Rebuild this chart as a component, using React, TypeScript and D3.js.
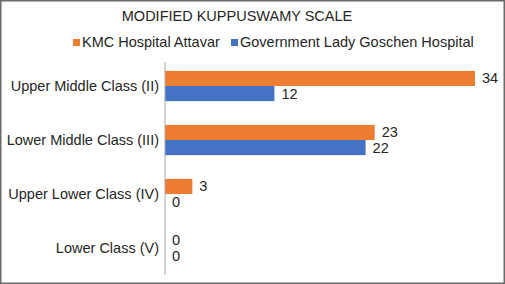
import React from "react";
import * as d3 from "d3";

const categories = ["Upper Middle Class (II)", "Lower Middle Class (III)", "Upper Lower Class (IV)", "Lower Class (V)"];
const seriesNames = ["KMC Hospital Attavar", "Government Lady Goschen Hospital"];
const kmcValues = [34, 23, 3, 0];
const goschenValues = [12, 22, 0, 0];
const colors = ["#ED7D31", "#4472C4"];

const W = 505, H = 284;
const left = 165, top = 59, bottom = 275;

export default function App() {
  const y = d3.scaleBand<string>().domain(categories).range([top, bottom]).paddingInner(0.44).paddingOuter(0.22);
  const sub = d3.scaleBand<number>().domain([0, 1]).range([0, y.bandwidth()]);
  const x = d3.scaleLinear().domain([0, 34]).range([left, 475]);
  const series = [kmcValues, goschenValues];
  const font = "Liberation Sans, Arial, sans-serif";
  const fs = 14.5;
  return (
    <svg width={W} height={H} style={{ position: "fixed", left: 0, top: 0 }} fontFamily={font}>
      <rect x={0} y={0} width={W} height={H} fill="#fff" />
      <rect x={0.75} y={0.75} width={W - 1.5} height={H - 1.5} fill="none" stroke="#6b6b6b" strokeWidth={1.5} />
      <text x={237} y={20.5} textAnchor="middle" fontSize={fs} fill="#262626">MODIFIED KUPPUSWAMY SCALE</text>
      {seriesNames.map((n, i) => {
        const lx = i === 0 ? 73 : 231;
        return (
          <g key={n}>
            <rect x={lx} y={39} width={7} height={7} fill={colors[i]} />
            <text x={lx + 9} y={47} fontSize={fs} fill="#262626">{n}</text>
          </g>
        );
      })}
      {categories.map((c, ci) => (
        <g key={c}>
          <text x={159} y={(y(c) as number) + y.bandwidth() / 2 + 5} textAnchor="end" fontSize={fs} fill="#262626">{c}</text>
          {series.map((vals, si) => {
            const by = (y(c) as number) + (sub(si) as number);
            return (
              <g key={si}>
                <rect x={x(0)} y={by} width={x(vals[ci]) - x(0)} height={sub.bandwidth()} fill={colors[si]} />
                <text x={x(vals[ci]) + 7} y={by + sub.bandwidth() / 2 + 5} fontSize={fs} fill="#262626">{vals[ci]}</text>
              </g>
            );
          })}
        </g>
      ))}
      <line x1={left} x2={left} y1={62} y2={bottom} stroke="#a6a6a6" strokeWidth={1} />
    </svg>
  );
}
